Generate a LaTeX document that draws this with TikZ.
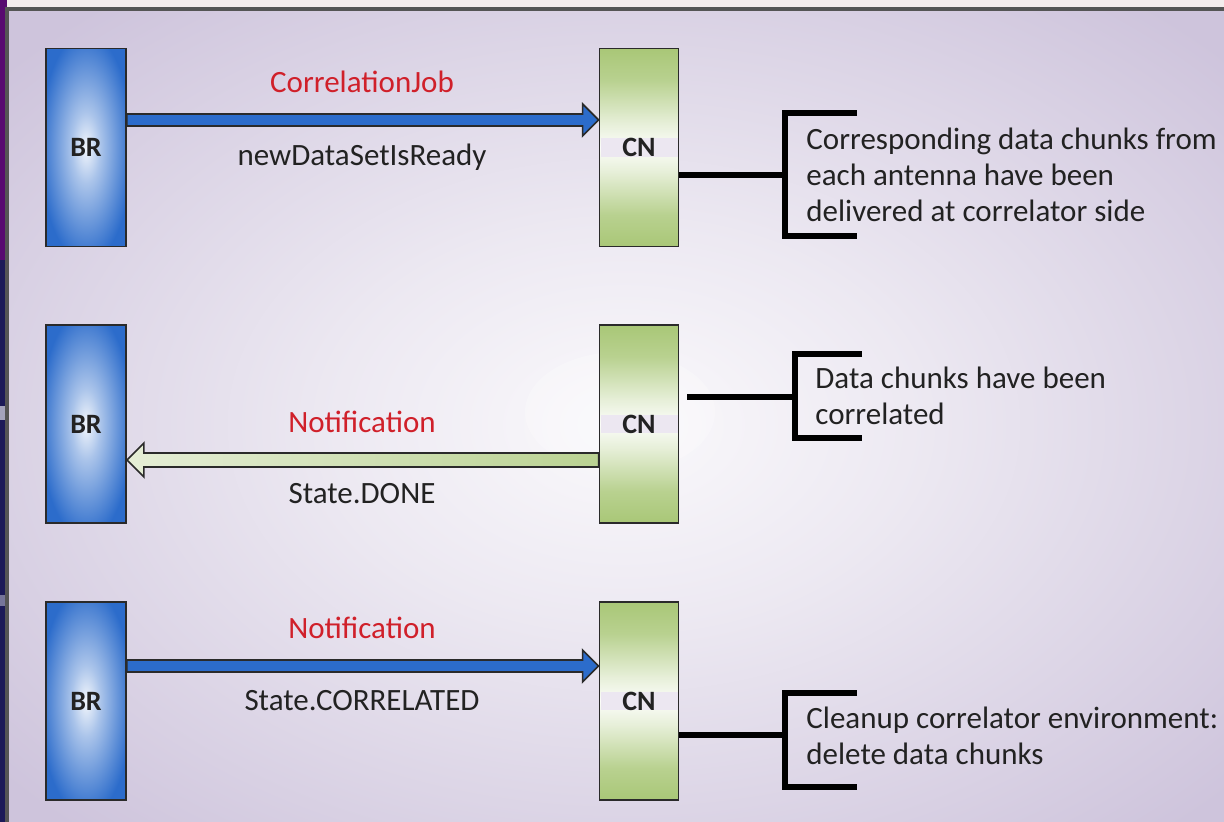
\documentclass[tikz,border=0pt]{standalone}
\usepackage{fontspec}
\setmainfont{Carlito}
\usetikzlibrary{calc}

\definecolor{lav}{HTML}{CEC4DC}
\definecolor{brblue}{HTML}{2C6CCB}
\definecolor{cngreen}{HTML}{A9C777}
\definecolor{msgred}{HTML}{D0202A}
\definecolor{ink}{HTML}{222222}
\definecolor{edge}{HTML}{2A2A2A}
\definecolor{navy}{HTML}{1C1A58}
\definecolor{band}{HTML}{ECE7F1}
\definecolor{topstrip}{HTML}{F4EDED}

% radial shadings: the path's box is inscribed in the 50bp circle;
% axis shadings: the path's box spans 25bp to 75bp
\pgfdeclareradialshading{pageglow}{\pgfpoint{0bp}{0bp}}{%
  color(0bp)=(white!90!lav); color(12bp)=(white!62!lav);
  color(33bp)=(lav); color(50bp)=(lav)}
\pgfdeclareradialshading{brglow}{\pgfpoint{0bp}{0bp}}{%
  color(0bp)=(white!94!brblue); color(9bp)=(white!60!brblue);
  color(29bp)=(brblue); color(50bp)=(brblue)}
\pgfdeclareverticalshading{cnfade}{100bp}{%
  color(0bp)=(cngreen); color(25bp)=(cngreen); color(33bp)=(cngreen!82!white);
  color(44bp)=(cngreen!28!white); color(50bp)=(white!96!cngreen);
  color(56bp)=(cngreen!28!white); color(67bp)=(cngreen!82!white);
  color(75bp)=(cngreen); color(100bp)=(cngreen)}

\tikzset{
  brbox/.style={draw=edge, line width=0.9pt, shading=brglow,
    minimum width=40pt, minimum height=99pt, inner sep=0pt,
    font=\fontsize{14}{16}\selectfont\bfseries, text=ink},
  cnbox/.style={draw=edge, line width=0.9pt, shading=cnfade,
    minimum width=39.5pt, minimum height=99pt, inner sep=0pt},
  cnlabel/.style={fill=band, minimum width=38.5pt, minimum height=8.5pt,
    inner sep=0pt, font=\fontsize{14}{16}\selectfont\bfseries, text=ink},
  msg/.style={font=\fontsize{15.5}{18}\selectfont, text=msgred},
  param/.style={font=\fontsize{15.5}{18}\selectfont, text=ink},
  note/.style={font=\fontsize{15.5}{18}\selectfont, text=ink, align=left,
    inner sep=0pt, anchor=west},
  bluearrow/.style={draw=edge, line width=0.8pt, left color=brblue,
    middle color=brblue!45!white, right color=brblue},
  greenarrow/.style={draw=edge, line width=0.8pt,
    left color=cngreen!30!white, right color=cngreen!80!white},
  bracket/.style={draw=black, line width=2.6pt},
}

\begin{document}
\begin{tikzpicture}[x=0.5pt,y=-0.5pt]
\useasboundingbox (0,0) rectangle (1224,822);

% surroundings of the slide
\fill[topstrip] (0,0) rectangle (1224,9);
\fill[navy] (0,0) rectangle (7,822);
\fill[violet!60!navy] (0,0) rectangle (7,260);
\fill[white, opacity=0.6] (0,406) rectangle (5,420);
\fill[white, opacity=0.4] (0,595) rectangle (5,606);

% slide area
\shade[shading=pageglow] (7,9) rectangle (1240,840);
\fill[white, opacity=0.25] (620,412) ellipse (95 and 60);
\draw[edge!80!white, line width=1.6pt] (1240,9) -- (7,9) -- (7,840);

% row 1
\node[brbox] (br1) at (86,147.5) {BR};
\node[cnbox] (cn1) at (639,147.5) {};
\node[cnlabel] (cnl1) at (cn1) {CN};
\coordinate (a1) at ($(br1.east)+(0,-27.5)$);
\coordinate (b1) at ($(cn1.west)+(0,-27.5)$);
\shadedraw[bluearrow] ($(a1)+(0,-6)$) -- ($(b1)+(-16,-6)$) -- ++(0,-10)
  -- (b1) -- ++(-16,16) -- ++(0,-10) -- ($(a1)+(0,6)$) -- cycle;
\node[msg] (m1) at (362,82) {CorrelationJob};
\node[param] (p1) at (362,157) {newDataSetIsReady};
\coordinate (k1) at (785,175);
\draw[bracket] (857,113) -| (785,236) -- (857,236);
\draw[bracket] (cn1.east |- k1) -- (k1);
\node[note] (d1) at (806,175) {Corresponding data chunks from\\each antenna have been\\delivered at correlator side};

% row 2
\node[brbox] (br2) at (86,424) {BR};
\node[cnbox] (cn2) at (639,424) {};
\node[cnlabel] (cnl2) at (cn2) {CN};
\coordinate (a2) at ($(cn2.west)+(0,36)$);
\coordinate (b2) at ($(br2.east)+(0,36)$);
\shadedraw[greenarrow] ($(a2)+(0,-7)$) -- ($(b2)+(17,-7)$) -- ++(0,-10)
  -- (b2) -- ++(17,17) -- ++(0,-10) -- ($(a2)+(0,7)$) -- cycle;
\node[msg] (m2) at (362,422) {Notification};
\node[param] (p2) at (362,494) {State.DONE};
\coordinate (k2) at (795,397);
\coordinate (s2) at ($(cn2.east)+(8,0)$);
\draw[bracket] (862,354) -| (795,438) -- (862,438);
\draw[bracket] (s2 |- k2) -- (k2);
\node[note] (d2) at (815,396) {Data chunks have been\\correlated};

% row 3
\node[brbox] (br3) at (86,701) {BR};
\node[cnbox] (cn3) at (639,701) {};
\node[cnlabel] (cnl3) at (cn3) {CN};
\coordinate (a3) at ($(br3.east)+(0,-35)$);
\coordinate (b3) at ($(cn3.west)+(0,-35)$);
\shadedraw[bluearrow] ($(a3)+(0,-6)$) -- ($(b3)+(-16,-6)$) -- ++(0,-10)
  -- (b3) -- ++(-16,16) -- ++(0,-10) -- ($(a3)+(0,6)$) -- cycle;
\node[msg] (m3) at (362,628) {Notification};
\node[param] (p3) at (362,701) {State.CORRELATED};
\coordinate (k3) at (785,735);
\draw[bracket] (857,693) -| (785,787) -- (857,787);
\draw[bracket] (cn3.east |- k3) -- (k3);
\node[note] (d3) at (806,736) {Cleanup correlator environment:\\delete data chunks};
\end{tikzpicture}
\end{document}
